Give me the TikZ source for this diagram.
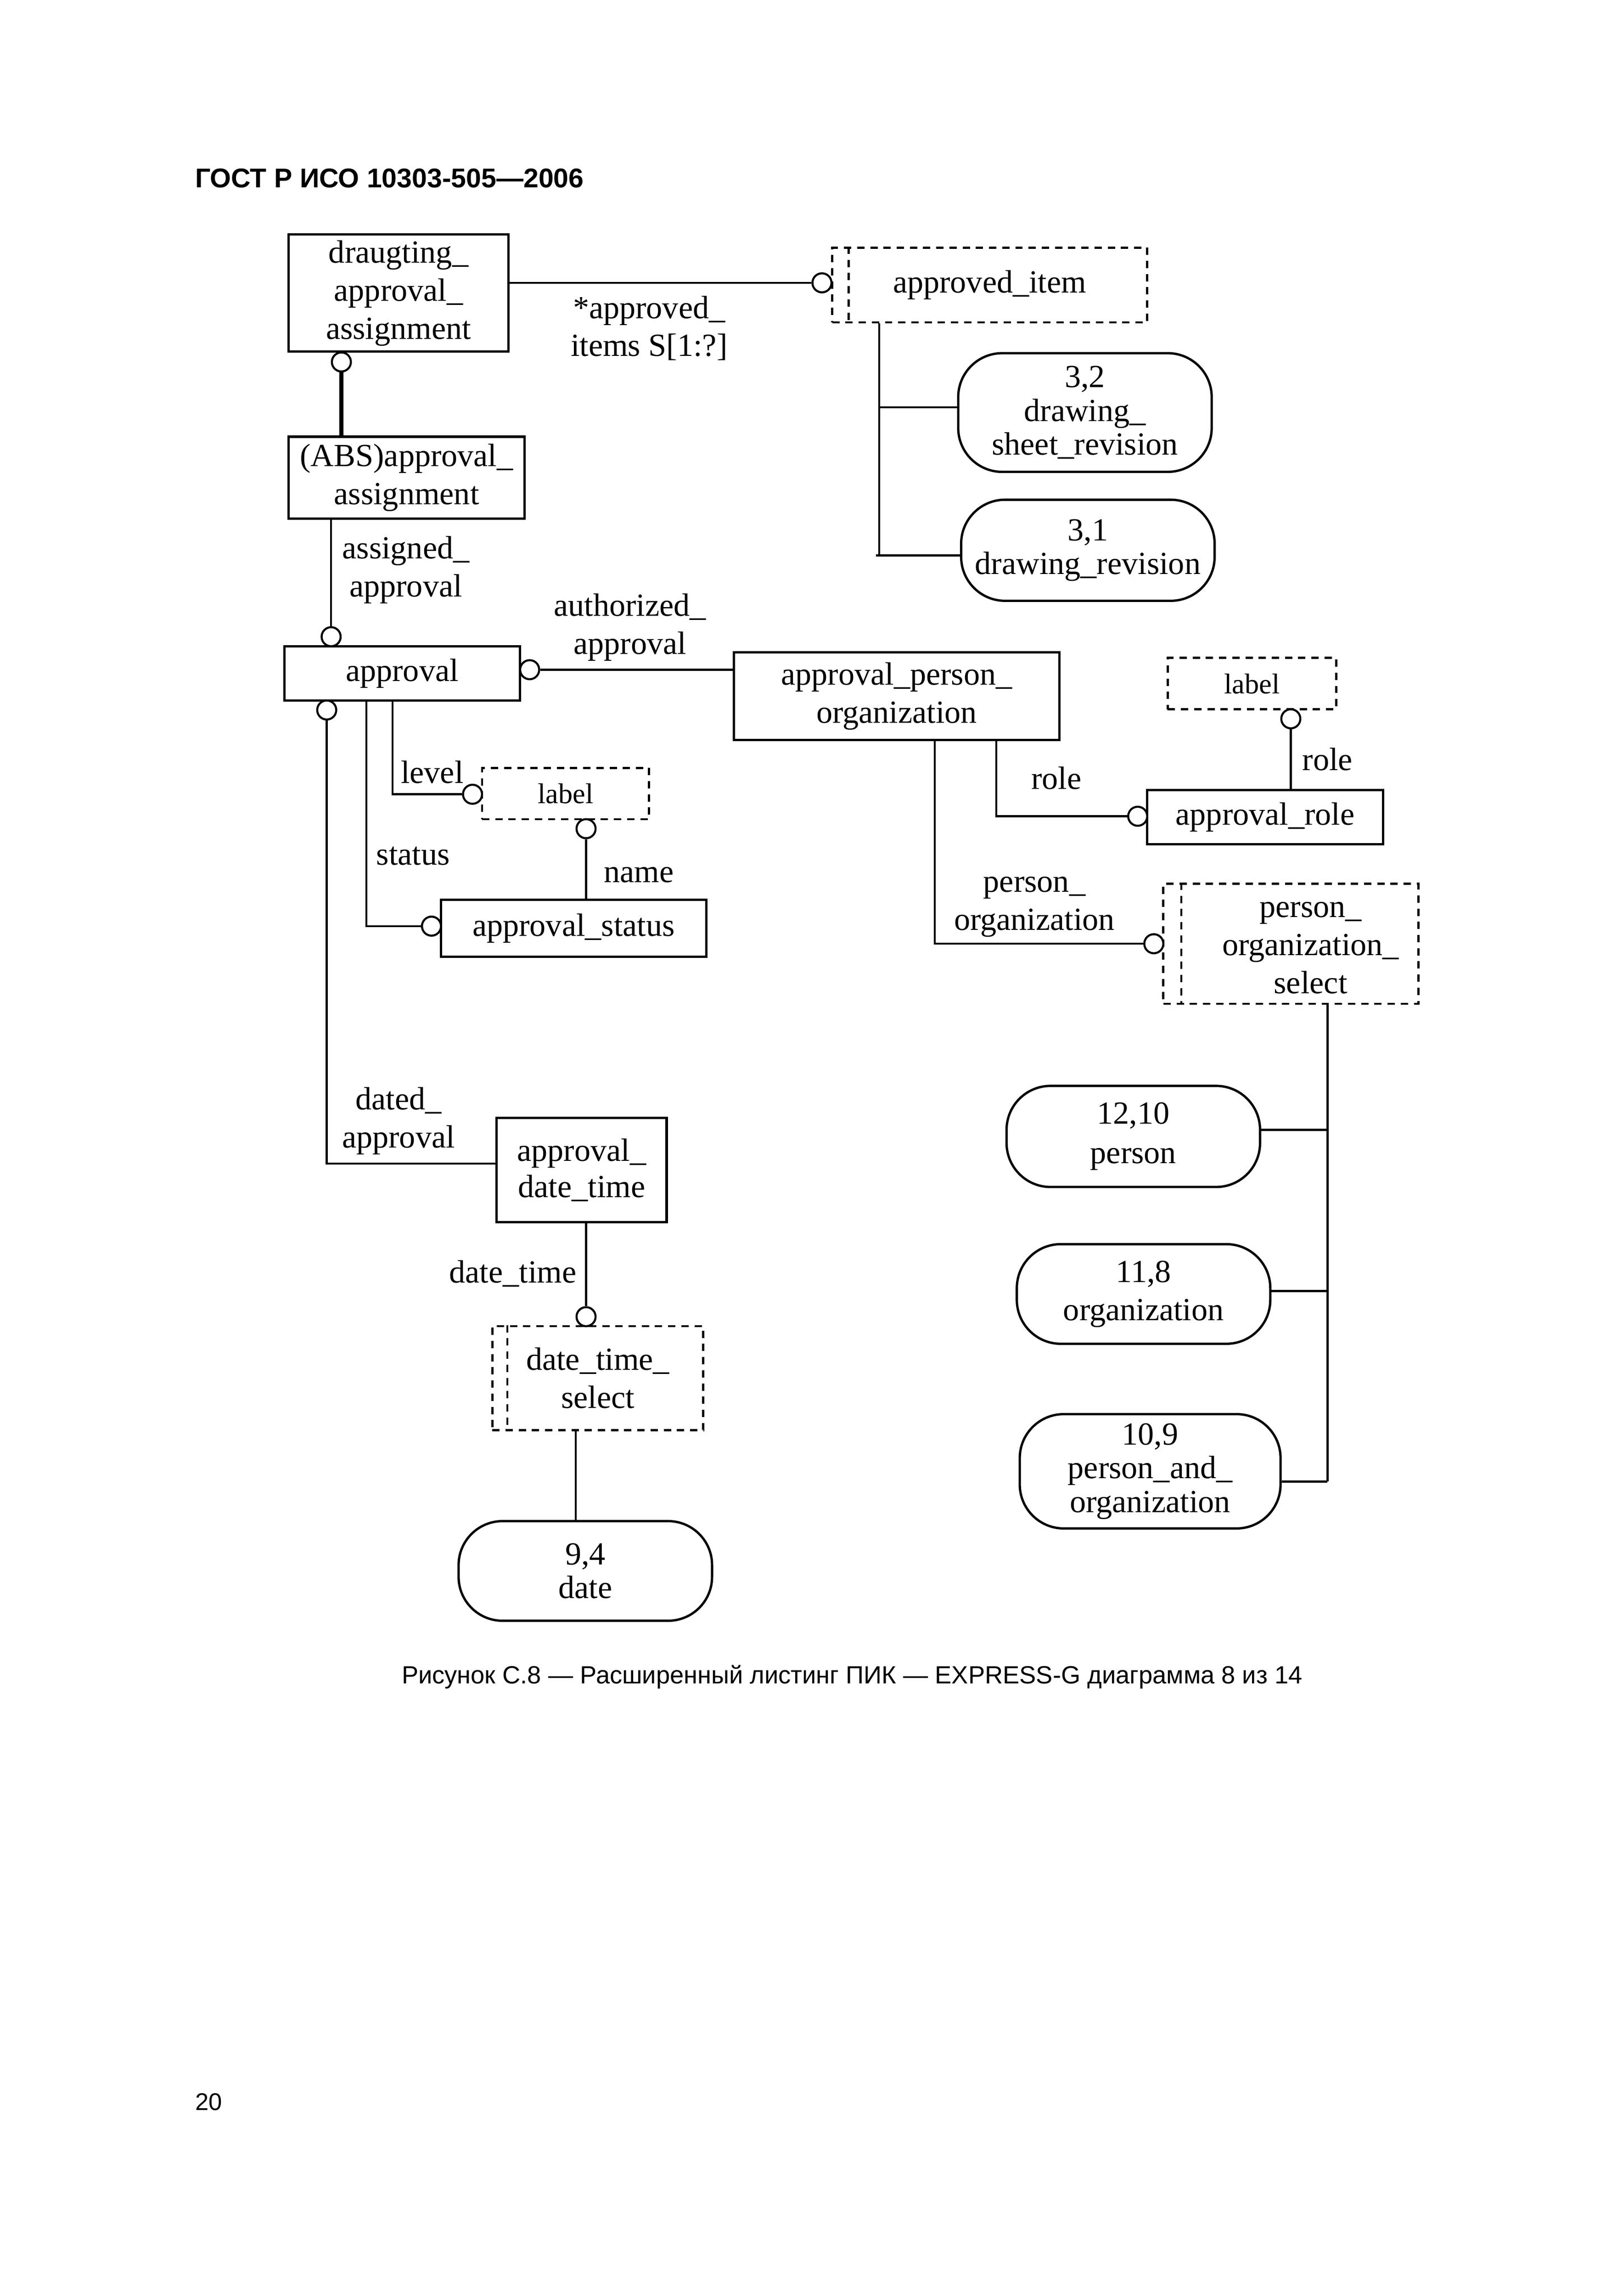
\documentclass[tikz,border=0pt]{standalone}
\usepackage{fontspec}
\setmainfont{Liberation Serif}
\newfontfamily\hdrfont{Liberation Sans}
\begin{document}
\begin{tikzpicture}[x=1pt,y=-1pt,
  ent/.style={draw, line width=1.6pt, rectangle, inner sep=0pt, align=center, font=\fontsize{22}{26}\selectfont},
  dsh/.style={ent, dash pattern=on 5pt off 4pt, line width=1.5pt},
  dline/.style={dash pattern=on 5pt off 4pt, line width=1.5pt},
  rnd/.style={ent, rounded corners=30pt, font=\fontsize{22}{23}\selectfont},
  conn/.style={line width=1.4pt},
  thickconn/.style={line width=3pt},
  circ/.style={draw, circle, line width=1.4pt, minimum size=13pt, inner sep=0pt, fill=white},
  lbl/.style={align=center, font=\fontsize{22}{26}\selectfont, inner sep=0pt},
  smalltxt/.style={font=\fontsize{19.5}{22}\selectfont}
]
\useasboundingbox (0,0) rectangle (1107.7,1566.8);

% header, caption, page number
\node[anchor=base west, inner sep=0pt, font=\hdrfont\bfseries\fontsize{18.5}{22}\selectfont] (hdr) at (133,128) {ГОСТ Р ИСО 10303-505—2006};
\node[anchor=base, inner sep=0pt, font=\hdrfont\fontsize{17}{20}\selectfont] (cap) at (581.5,1149) {Рисунок С.8 — Расширенный листинг ПИК — EXPRESS-G диаграмма 8 из 14};
\node[anchor=base west, inner sep=0pt, font=\hdrfont\fontsize{16.5}{20}\selectfont] (pg) at (133,1440) {20};

% entities
\node[ent, minimum width=150pt, minimum height=80pt] (dad) at (272,200) {draugting\_\\approval\_\\assignment};
\node[ent, minimum width=161pt, minimum height=56pt] (abs) at (277.5,326) {(ABS)approval\_\\assignment};
\node[ent, minimum width=161pt, minimum height=37pt] (appr) at (274.5,459.5) {approval};
\node[ent, minimum width=222pt, minimum height=60pt] (apo) at (612,475) {approval\_person\_\\organization};
\node[dsh, minimum width=215pt, minimum height=51pt] (aitem) at (675.5,194.5) {approved\_item};
\draw[dline] ([xshift=12pt]aitem.north west) -- ([xshift=12pt]aitem.south west);
\node[rnd, minimum width=173pt, minimum height=81pt] (dsr) at (740.5,281.5) {3,2\\drawing\_\\sheet\_revision};
\node[rnd, minimum width=173pt, minimum height=69pt] (dr) at (742.5,375.5) {3,1\\drawing\_revision};
\node[dsh, smalltxt, minimum width=114pt, minimum height=35pt] (lab1) at (386,541.5) {label};
\node[ent, minimum width=181pt, minimum height=39pt] (astat) at (391.5,633.5) {approval\_status};
\node[dsh, smalltxt, minimum width=115pt, minimum height=35pt] (lab2) at (854.5,466.5) {label};
\node[ent, minimum width=161pt, minimum height=37pt] (arole) at (863.5,557.5) {approval\_role};
\node[dsh, minimum width=174pt, minimum height=82pt] (pos) at (881,644) {};
\draw[dline] ([xshift=13pt]pos.north west) -- ([xshift=13pt]pos.south west);
\node[lbl] (posT) at (894.5,647) {person\_\\organization\_\\select};
\node[rnd, font=\fontsize{22}{27}\selectfont, minimum width=173pt, minimum height=69pt] (person) at (773.5,775.5) {12,10\\person};
\node[rnd, font=\fontsize{22}{26}\selectfont, minimum width=173pt, minimum height=68pt] (org) at (780.5,883) {11,8\\organization};
\node[rnd, minimum width=178pt, minimum height=78pt] (pao) at (785,1004) {10,9\\person\_and\_\\organization};
\node[ent, font=\fontsize{22}{25}\selectfont, minimum width=116pt, minimum height=71pt] (adt) at (397,798.5) {approval\_\\date\_time};
\node[dsh, minimum width=144pt, minimum height=71pt] (dts) at (408,940.5) {date\_time\_\\select};
\draw[dline] ([xshift=11pt]dts.north west) -- ([xshift=11pt]dts.south west);
\node[rnd, minimum width=173pt, minimum height=68pt] (date) at (399.5,1072) {9,4\\date};

% relation circles
\node[circ] (c1) at (561,193) {};
\node[circ] (c2) at (233,247) {};
\node[circ] (c3) at (226,434.5) {};
\node[circ] (c4) at (361.5,457) {};
\node[circ] (c5) at (223,484.5) {};
\node[circ] (c6) at (294.5,632) {};
\node[circ] (c7) at (322.5,542) {};
\node[circ] (c8) at (400,565.5) {};
\node[circ] (c9) at (776.5,557) {};
\node[circ] (c10) at (787.5,644) {};
\node[circ] (c11) at (881,490.5) {};
\node[circ] (c14) at (400,898.5) {};

% corner coordinates
\coordinate (k5) at (223,794);
\coordinate (k6) at (250,632);
\coordinate (k7) at (268,542);
\coordinate (k9) at (680,557);
\coordinate (k10) at (638,644);
\coordinate (b1) at (600,278);
\coordinate (b2) at (600,379);
\coordinate (b0) at (598,379);
\coordinate (p1) at (906,771);
\coordinate (p2) at (906,881);
\coordinate (p3) at (906,1011);
\coordinate (k15) at (393,1000);

% connectors
\draw[conn] (dad.east |- c1) -- (c1.west);
\draw[thickconn] (c2.south) -- (c2 |- abs.north);
\draw[conn] (c3 |- abs.south) -- (c3.north);
\draw[conn] (c4.east) -- (apo.west |- c4);
\draw[conn] (c5.south) -- (k5) -- (adt.west |- k5);
\draw[conn] (k6 |- appr.south) -- (k6) -- (c6.west);
\draw[conn] (k7 |- appr.south) -- (k7) -- (c7.west);
\draw[conn] (c8.south) -- (c8 |- astat.north);
\draw[conn] (k9 |- apo.south) -- (k9) -- (c9.west);
\draw[conn] (k10 |- apo.south) -- (k10) -- (c10.west);
\draw[conn] (c11.south) -- (c11 |- arole.north);
\draw[conn] (b1 |- aitem.south) -- (b2);
\draw[conn] (b1) -- (dsr.west |- b1);
\draw[conn] (b0) -- (dr.west |- b2);
\draw[conn] (p1 |- pos.south) -- (p3);
\draw[conn] (p1) -- (person.east |- p1);
\draw[conn] (p2) -- (org.east |- p2);
\draw[conn] (p3) -- (pao.east |- p3);
\draw[conn] (c14 |- adt.south) -- (c14.north);
\draw[conn] (k15 |- dts.south) -- (k15 |- date.north);

% role labels
\node[lbl] (l1) at (443,224) {*approved\_\\items S[1:?]};
\node[lbl] (l2) at (277,389) {assigned\_\\approval};
\node[lbl] (l3) at (430,428) {authorized\_\\approval};
\node[lbl] (l4) at (272,765) {dated\_\\approval};
\node[lbl] (l5) at (282,584) {status};
\node[lbl] (l6) at (295,527) {level};
\node[lbl] (l7) at (436,597) {name};
\node[lbl] (l8) at (721,531) {role};
\node[lbl] (l9) at (706,619) {person\_\\organization};
\node[lbl] (l10) at (906,518) {role};
\node[lbl] (l11) at (350,869) {date\_time};
\end{tikzpicture}
\end{document}
